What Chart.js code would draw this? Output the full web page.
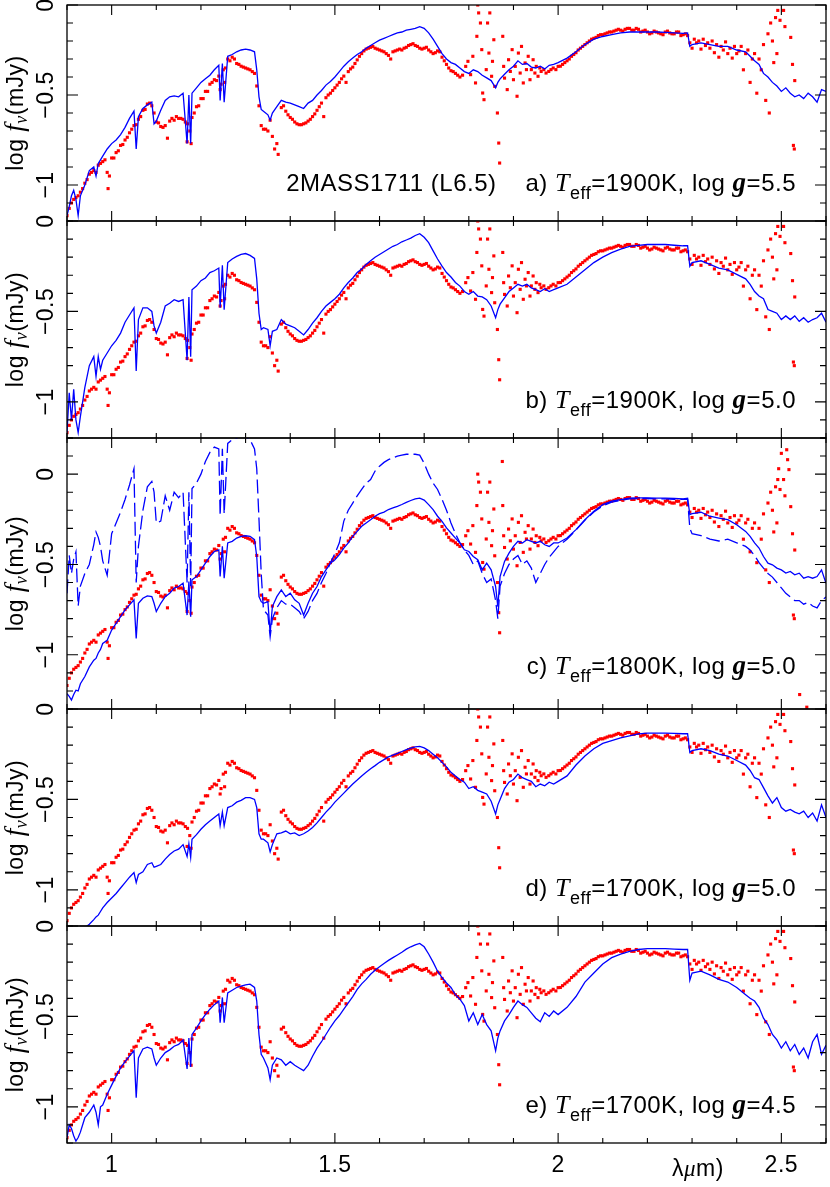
<!DOCTYPE html>
<html><head><meta charset="utf-8">
<script src="https://cdn.jsdelivr.net/npm/chart.js@4.4.1/dist/chart.umd.min.js"></script>
<style>
html,body{margin:0;padding:0;background:#fff;}
#wrap{position:relative;width:830px;height:1187px;overflow:hidden;background:#fff;}
#wrap canvas{position:absolute;left:0;}
</style></head><body><div id="wrap"></div>
<script>
// ---------- observed spectrum (red dots): wavelength (micron) and log f_nu (mJy) ----------
const obsWave = [
 0.90,0.91,0.92,0.93,0.94,0.95,0.96,0.97,0.98,0.99,0.992,
 1.00,1.01,1.02,1.03,1.04,1.05,1.06,1.07,1.08,1.085,1.09,
 1.10,1.11,1.12,1.125,1.13,1.14,1.15,1.16,1.169,1.17,1.178,1.18,1.19,
 1.20,1.21,1.22,1.23,1.24,1.243,1.25,1.253,1.26,1.27,1.28,1.29,
 1.30,1.31,1.32,1.325,1.33,1.335,1.34,1.35,1.355,1.36,1.365,1.37,1.373,1.38,1.385,1.39,
 1.40,1.41,1.42,1.43,1.44,1.45,1.46,1.47,1.475,1.48,1.49,
 1.50,1.51,1.52,1.525,1.53,1.54,1.55,1.56,1.57,1.58,1.59,
 1.60,1.61,1.62,1.625,1.63,1.64,1.65,1.66,1.67,1.68,1.69,
 1.70,1.71,1.72,1.73,1.74,1.75,1.76,1.77,1.78,1.786,
 1.793,1.798,1.804,1.809,1.815,1.818,1.820,1.822,1.826,1.829,1.831,1.834,1.839,1.842,1.845,1.847,1.851,1.853,1.856,1.858,1.864,1.867,1.869,
 1.875,1.876,1.878,1.880,1.886,1.889,1.893,1.897,1.900,1.904,1.908,1.911,1.915,1.918,1.922,1.926,1.929,1.933,1.937,1.940,
 1.944,1.948,1.951,1.955,1.959,1.962,1.968,1.973,1.979,1.984,1.989,1.995,2.000,
 2.01,2.02,2.03,2.04,2.05,2.06,2.07,2.08,2.09,2.10,
 2.11,2.12,2.13,2.14,2.15,2.16,2.17,2.18,2.19,2.20,
 2.21,2.22,2.23,2.24,2.25,2.26,2.27,2.28,2.285,2.29,
 2.295,2.30,2.305,2.31,2.315,2.32,2.325,2.33,2.335,2.34,2.345,2.35,2.355,2.36,2.365,2.37,2.375,2.38,2.385,2.39,
 2.395,2.40,2.405,2.41,2.415,2.42,2.425,2.43,2.435,2.44,2.445,2.45,2.455,2.46,2.465,2.47,2.473,2.476,2.48,2.483,
 2.487,2.49,2.492,2.494,2.497,2.50,2.505,2.508,2.512,2.514,2.517,2.521,2.525,2.527,2.529,2.53,2.541,2.557
];
const obsLogF = [
 -1.17,-1.10,-1.07,-1.04,-0.99,-0.94,-0.92,-0.89,-0.87,-0.93,-1.02,
 -0.85,-0.82,-0.78,-0.75,-0.71,-0.67,-0.635,-0.585,-0.55,-0.545,-0.56,
 -0.65,-0.675,-0.67,-0.74,-0.645,-0.64,-0.63,-0.635,-0.76,-0.66,-0.77,-0.625,-0.565,
 -0.52,-0.48,-0.44,-0.415,-0.395,-0.47,-0.36,-0.43,-0.30,-0.29,-0.325,-0.34,
 -0.35,-0.36,-0.38,-0.45,-0.56,-0.67,-0.69,-0.70,-0.64,-0.73,-0.80,-0.77,-0.83,-0.57,-0.56,-0.59,
 -0.625,-0.65,-0.665,-0.66,-0.645,-0.62,-0.585,-0.545,-0.62,-0.515,-0.49,
 -0.46,-0.43,-0.395,-0.43,-0.37,-0.345,-0.305,-0.27,-0.245,-0.235,-0.24,
 -0.25,-0.26,-0.28,-0.30,-0.26,-0.25,-0.25,-0.235,-0.22,-0.225,-0.24,
 -0.24,-0.25,-0.27,-0.255,-0.29,-0.33,-0.365,-0.38,-0.40,-0.39,
 -0.341,-0.313,-0.387,-0.285,-0.433,-0.174,0.0,-0.044,-0.10,-0.248,-0.489,-0.526,-0.359,-0.10,-0.267,-0.044,-0.396,-0.313,-0.193,-0.452,-0.60,-0.767,-0.878,
 0.07,-0.174,-0.341,-0.406,-0.47,-0.304,-0.369,-0.248,-0.415,-0.341,-0.507,-0.267,-0.378,-0.23,-0.433,-0.322,-0.359,-0.285,-0.415,-0.359,
 -0.304,-0.378,-0.341,-0.396,-0.35,-0.369,-0.359,-0.378,-0.369,-0.359,-0.35,-0.359,-0.341,
 -0.33,-0.31,-0.285,-0.265,-0.24,-0.22,-0.20,-0.185,-0.17,-0.165,
 -0.155,-0.15,-0.14,-0.14,-0.135,-0.13,-0.14,-0.135,-0.145,-0.15,
 -0.155,-0.15,-0.16,-0.15,-0.155,-0.16,-0.15,-0.165,-0.16,-0.17,
 -0.21,-0.24,-0.19,-0.21,-0.20,-0.245,-0.19,-0.225,-0.21,-0.24,-0.20,-0.265,-0.22,-0.29,-0.23,-0.25,-0.205,-0.27,-0.24,-0.295,
 -0.23,-0.27,-0.255,-0.23,-0.36,-0.27,-0.25,-0.43,-0.30,-0.27,-0.49,-0.30,-0.36,-0.22,-0.53,-0.16,-0.60,-0.10,-0.20,-0.32,
 -0.07,-0.27,-0.03,0.03,-0.085,0.115,-0.03,-0.12,0.135,0.08,0.025,-0.18,-0.33,-0.78,-0.80,-0.42,-1.22,-1.29
];
// additional observed points between the grid above (dense parts of the spectrum)
const obsWaveFill = [
 0.905,0.915,0.925,0.935,0.945,0.955,0.965,0.975,0.985,0.995,
 1.005,1.015,1.025,1.035,1.045,1.055,1.065,1.075,1.095,1.105,
 1.115,1.135,1.145,1.155,1.165,1.175,1.185,1.195,1.205,1.215,
 1.225,1.235,1.245,1.255,1.265,1.275,1.285,1.295,1.305,1.315,
 1.345,1.395,1.405,1.415,1.425,1.435,1.445,1.455,1.465,1.485,
 1.495,1.505,1.515,1.535,1.545,1.555,1.565,1.575,1.585,1.595,
 1.605,1.615,1.635,1.645,1.655,1.665,1.675,1.685,1.695,1.705,
 1.715,1.725,1.735,1.745,1.755,1.765,1.775,
 2.005,2.015,2.025,2.035,2.045,2.055,2.065,2.075,2.085,2.095,
 2.105,2.115,2.125,2.135,2.145,2.155,2.165,2.175,2.185,2.195,
 2.205,2.215,2.225,2.235,2.245,2.255,2.265,2.275
];
const obsLogFFill = [
 -1.13,-1.08,-1.06,-1.02,-0.97,-0.93,-0.93,-0.88,-0.86,-0.95,
 -0.85,-0.81,-0.775,-0.735,-0.69,-0.665,-0.62,-0.58,-0.60,-0.655,
 -0.68,-0.63,-0.62,-0.63,-0.65,-0.70,-0.60,-0.56,-0.52,-0.48,
 -0.43,-0.42,-0.44,-0.35,-0.31,-0.30,-0.33,-0.345,-0.355,-0.37,
 -0.69,-0.61,-0.635,-0.66,-0.665,-0.655,-0.635,-0.605,-0.565,-0.50,
 -0.475,-0.445,-0.41,-0.355,-0.325,-0.285,-0.255,-0.24,-0.23,-0.245,
 -0.255,-0.27,-0.255,-0.245,-0.24,-0.225,-0.215,-0.23,-0.245,-0.235,
 -0.26,-0.265,-0.26,-0.31,-0.35,-0.37,-0.39,
 -0.34,-0.32,-0.30,-0.275,-0.25,-0.23,-0.21,-0.19,-0.18,-0.165,
 -0.16,-0.15,-0.145,-0.135,-0.145,-0.13,-0.14,-0.13,-0.15,-0.14,
 -0.16,-0.145,-0.155,-0.165,-0.145,-0.16,-0.15,-0.17
];

// ---------- model spectra (blue lines), common wavelength grid ----------
const modelWave = [
 0.90,0.905,0.91,0.915,0.92,0.925,0.93,
 0.94,0.95,0.96,0.965,0.97,0.975,0.98,0.99,
 1.00,1.01,1.02,1.03,1.04,1.05,1.055,1.06,1.07,1.08,1.09,1.095,
 1.10,1.11,1.12,1.13,1.14,1.15,1.16,1.169,1.173,1.177,1.18,1.19,
 1.20,1.21,1.22,1.23,1.24,1.243,1.248,1.252,1.26,1.27,1.28,1.29,
 1.30,1.31,1.32,1.325,1.33,1.335,1.34,1.35,1.355,1.36,1.37,1.38,1.39,
 1.40,1.41,1.42,1.43,1.44,1.45,1.46,1.47,1.48,1.49,
 1.50,1.51,1.52,1.53,1.54,1.55,1.56,1.57,1.58,1.59,
 1.60,1.61,1.62,1.63,1.64,1.65,1.66,1.67,1.68,1.69,
 1.70,1.71,1.72,1.73,1.74,1.75,1.76,1.77,1.78,1.79,
 1.80,1.81,1.82,1.83,1.84,1.85,1.86,1.865,1.87,1.88,1.89,
 1.90,1.91,1.92,1.93,1.94,1.95,1.96,1.97,1.98,1.99,
 2.00,2.02,2.04,2.06,2.08,2.10,2.12,2.14,2.16,2.18,2.20,2.22,2.24,2.26,2.28,
 2.29,2.295,2.30,2.32,2.34,2.36,2.38,2.40,
 2.42,2.43,2.44,2.45,2.46,2.47,2.48,2.49,
 2.50,2.51,2.52,2.53,2.54,2.55,2.56,2.57,2.58,2.59,2.60
];
// a) Teff=1900K, log g=5.5
const modelA = [
 -1.17,-1.12,-1.06,-1.03,-1.08,-1.17,-1.06,
 -1.00,-0.92,-0.90,-0.95,-0.88,-0.86,-0.84,-0.80,
 -0.77,-0.75,-0.72,-0.68,-0.63,-0.59,-0.80,-0.62,-0.575,-0.555,-0.54,-0.66,
 -0.645,-0.585,-0.53,-0.51,-0.505,-0.51,-0.49,-0.77,-0.50,-0.77,-0.49,-0.46,
 -0.43,-0.41,-0.39,-0.36,-0.335,-0.53,-0.325,-0.54,-0.285,-0.275,-0.26,-0.25,
 -0.245,-0.25,-0.26,-0.36,-0.51,-0.58,-0.59,-0.61,-0.64,-0.60,-0.565,-0.53,-0.54,
 -0.545,-0.555,-0.565,-0.575,-0.545,-0.53,-0.50,-0.475,-0.445,-0.425,
 -0.40,-0.37,-0.34,-0.315,-0.295,-0.275,-0.26,-0.24,-0.225,-0.21,
 -0.195,-0.185,-0.175,-0.165,-0.155,-0.15,-0.14,-0.135,-0.13,-0.12,
 -0.13,-0.155,-0.19,-0.23,-0.27,-0.30,-0.32,-0.33,-0.35,-0.37,
 -0.38,-0.36,-0.37,-0.39,-0.405,-0.42,-0.46,-0.43,-0.41,-0.385,-0.36,
 -0.34,-0.31,-0.33,-0.325,-0.345,-0.35,-0.34,-0.355,-0.335,-0.33,
 -0.32,-0.295,-0.26,-0.22,-0.19,-0.175,-0.165,-0.155,-0.15,-0.15,-0.15,-0.15,-0.152,-0.155,-0.158,
 -0.155,-0.23,-0.22,-0.21,-0.22,-0.23,-0.23,-0.25,
 -0.26,-0.285,-0.31,-0.33,-0.38,-0.40,-0.43,-0.45,
 -0.48,-0.46,-0.49,-0.51,-0.50,-0.52,-0.49,-0.51,-0.54,-0.47,-0.48
];
// b) Teff=1900K, log g=5.0
const modelB = [
 -1.17,-0.95,-1.10,-0.93,-1.10,-1.17,-1.08,
 -0.92,-0.80,-0.75,-0.86,-0.75,-0.82,-0.77,-0.73,
 -0.69,-0.66,-0.62,-0.56,-0.52,-0.48,-0.83,-0.545,-0.48,-0.48,-0.50,-0.58,
 -0.62,-0.56,-0.47,-0.455,-0.435,-0.445,-0.435,-0.77,-0.42,-0.75,-0.38,-0.36,
 -0.33,-0.315,-0.285,-0.275,-0.26,-0.48,-0.245,-0.49,-0.23,-0.21,-0.196,-0.185,
 -0.18,-0.19,-0.207,-0.32,-0.51,-0.60,-0.59,-0.60,-0.69,-0.61,-0.60,-0.545,-0.57,
 -0.58,-0.59,-0.61,-0.63,-0.60,-0.565,-0.535,-0.50,-0.47,-0.45,
 -0.43,-0.405,-0.37,-0.34,-0.315,-0.285,-0.265,-0.24,-0.22,-0.20,
 -0.185,-0.17,-0.155,-0.14,-0.13,-0.115,-0.105,-0.095,-0.08,-0.07,
 -0.09,-0.12,-0.165,-0.21,-0.25,-0.285,-0.31,-0.34,-0.36,-0.39,
 -0.405,-0.39,-0.415,-0.42,-0.435,-0.47,-0.535,-0.49,-0.46,-0.425,-0.39,
 -0.37,-0.35,-0.36,-0.35,-0.37,-0.38,-0.39,-0.375,-0.39,-0.38,
 -0.37,-0.35,-0.31,-0.27,-0.23,-0.20,-0.175,-0.155,-0.14,-0.135,-0.13,-0.13,-0.13,-0.134,-0.137,
 -0.137,-0.25,-0.23,-0.22,-0.24,-0.26,-0.27,-0.295,
 -0.32,-0.35,-0.39,-0.415,-0.43,-0.49,-0.50,-0.51,
 -0.545,-0.525,-0.545,-0.525,-0.555,-0.535,-0.56,-0.545,-0.535,-0.51,-0.56
];
// c) Teff=1800K, log g=5.0 (solid)
const modelC = [
 -1.215,-1.23,-1.25,-1.22,-1.196,-1.20,-1.16,
 -1.12,-1.067,-1.03,-1.02,-0.99,-0.97,-0.937,-0.92,
 -0.863,-0.826,-0.789,-0.752,-0.724,-0.696,-0.909,-0.715,-0.687,-0.674,-0.678,-0.715,
 -0.761,-0.715,-0.678,-0.659,-0.631,-0.622,-0.604,-0.78,-0.594,-0.789,-0.585,-0.567,
 -0.53,-0.493,-0.456,-0.428,-0.419,-0.567,-0.40,-0.576,-0.381,-0.372,-0.354,-0.344,
 -0.341,-0.344,-0.363,-0.456,-0.678,-0.706,-0.715,-0.706,-0.881,-0.733,-0.678,-0.641,-0.678,
 -0.659,-0.696,-0.715,-0.78,-0.715,-0.659,-0.622,-0.567,-0.53,-0.493,
 -0.474,-0.446,-0.409,-0.381,-0.344,-0.317,-0.289,-0.27,-0.252,-0.233,
 -0.219,-0.21,-0.196,-0.187,-0.178,-0.168,-0.156,-0.146,-0.137,-0.133,
 -0.144,-0.169,-0.196,-0.233,-0.261,-0.298,-0.326,-0.354,-0.381,-0.419,
 -0.428,-0.456,-0.474,-0.53,-0.493,-0.53,-0.622,-0.733,-0.567,-0.483,-0.437,
 -0.40,-0.372,-0.381,-0.363,-0.372,-0.381,-0.372,-0.391,-0.40,-0.381,
 -0.381,-0.354,-0.307,-0.252,-0.206,-0.169,-0.15,-0.141,-0.133,-0.131,-0.131,-0.133,-0.133,-0.135,-0.137,
 -0.133,-0.224,-0.219,-0.211,-0.233,-0.243,-0.252,-0.28,
 -0.317,-0.344,-0.381,-0.409,-0.456,-0.493,-0.502,-0.52,
 -0.53,-0.548,-0.539,-0.557,-0.548,-0.576,-0.567,-0.576,-0.567,-0.53,-0.604
];
// c) dashed comparison model
const modelCdash = [
 -0.66,-0.45,-0.55,-0.47,-0.43,-0.73,-0.62,
 -0.55,-0.50,-0.39,-0.32,-0.35,-0.40,-0.48,-0.56,
 -0.33,-0.27,-0.21,-0.14,-0.06,0.03,-0.60,-0.40,-0.20,-0.07,-0.04,-0.10,
 -0.27,-0.26,-0.12,-0.20,-0.10,-0.13,-0.10,-0.60,-0.10,-0.62,-0.08,-0.05,
 0.00,0.07,0.12,0.15,0.14,-0.23,0.14,-0.22,0.17,0.19,0.20,0.21,
 0.21,0.19,0.14,0.03,-0.25,-0.55,-0.75,-0.78,-0.90,-0.80,-0.74,-0.70,-0.72,
 -0.72,-0.74,-0.76,-0.80,-0.76,-0.70,-0.66,-0.60,-0.55,-0.49,
 -0.44,-0.38,-0.26,-0.20,-0.16,-0.12,-0.085,-0.05,-0.03,0.017,
 0.044,0.065,0.08,0.09,0.10,0.105,0.11,0.11,0.11,0.105,
 0.06,0.00,-0.05,-0.085,-0.14,-0.20,-0.27,-0.33,-0.38,-0.42,
 -0.45,-0.50,-0.48,-0.55,-0.60,-0.58,-0.70,-0.80,-0.62,-0.55,-0.50,
 -0.47,-0.45,-0.50,-0.48,-0.52,-0.60,-0.55,-0.50,-0.46,-0.43,
 -0.40,-0.36,-0.31,-0.255,-0.21,-0.175,-0.155,-0.145,-0.137,-0.135,-0.135,-0.137,-0.137,-0.14,-0.14,
 -0.14,-0.30,-0.33,-0.34,-0.36,-0.37,-0.36,-0.38,
 -0.40,-0.42,-0.45,-0.49,-0.52,-0.55,-0.57,-0.60,
 -0.63,-0.66,-0.68,-0.70,-0.70,-0.72,-0.71,-0.73,-0.74,-0.70,-0.68
];
// d) Teff=1700K, log g=5.0
const modelD = [
 -1.32,-1.31,-1.29,-1.28,-1.26,-1.25,-1.24,
 -1.21,-1.19,-1.165,-1.15,-1.14,-1.12,-1.10,-1.07,
 -1.045,-1.02,-0.99,-0.96,-0.93,-0.905,-0.96,-0.915,-0.90,-0.86,-0.85,-0.875,
 -0.87,-0.86,-0.83,-0.805,-0.785,-0.775,-0.75,-0.815,-0.745,-0.82,-0.72,-0.695,
 -0.665,-0.64,-0.62,-0.60,-0.58,-0.645,-0.57,-0.645,-0.545,-0.535,-0.515,-0.505,
 -0.49,-0.49,-0.50,-0.545,-0.69,-0.72,-0.72,-0.74,-0.79,-0.75,-0.69,-0.685,-0.675,
 -0.69,-0.685,-0.70,-0.69,-0.675,-0.655,-0.63,-0.60,-0.57,-0.545,
 -0.515,-0.49,-0.465,-0.44,-0.415,-0.393,-0.37,-0.35,-0.33,-0.313,
 -0.295,-0.28,-0.265,-0.255,-0.245,-0.235,-0.225,-0.217,-0.21,-0.207,
 -0.215,-0.23,-0.25,-0.27,-0.295,-0.32,-0.35,-0.37,-0.39,-0.405,
 -0.44,-0.43,-0.45,-0.46,-0.47,-0.51,-0.58,-0.53,-0.50,-0.44,-0.405,
 -0.39,-0.36,-0.38,-0.39,-0.40,-0.43,-0.415,-0.425,-0.405,-0.415,
 -0.40,-0.37,-0.31,-0.26,-0.22,-0.19,-0.175,-0.16,-0.148,-0.137,-0.133,-0.133,-0.133,-0.135,-0.137,
 -0.137,-0.24,-0.23,-0.22,-0.23,-0.25,-0.26,-0.285,
 -0.31,-0.34,-0.38,-0.39,-0.435,-0.48,-0.52,-0.49,
 -0.545,-0.565,-0.555,-0.57,-0.58,-0.565,-0.60,-0.575,-0.62,-0.53,-0.60
];
// e) Teff=1700K, log g=4.5
const modelE = [
 -1.17,-1.10,-1.12,-1.16,-1.19,-1.17,-1.14,
 -1.06,-1.03,-0.99,-1.03,-1.10,-1.00,-0.99,-0.93,
 -0.88,-0.83,-0.785,-0.75,-0.72,-0.69,-0.95,-0.73,-0.68,-0.67,-0.68,-0.73,
 -0.77,-0.73,-0.70,-0.685,-0.665,-0.655,-0.63,-0.79,-0.62,-0.78,-0.60,-0.565,
 -0.525,-0.49,-0.46,-0.435,-0.415,-0.535,-0.395,-0.535,-0.37,-0.355,-0.34,-0.333,
 -0.325,-0.322,-0.34,-0.415,-0.60,-0.71,-0.73,-0.785,-0.85,-0.77,-0.73,-0.74,-0.77,
 -0.75,-0.77,-0.785,-0.80,-0.77,-0.72,-0.675,-0.64,-0.60,-0.56,
 -0.525,-0.495,-0.46,-0.425,-0.39,-0.35,-0.32,-0.295,-0.267,-0.245,
 -0.225,-0.207,-0.19,-0.175,-0.16,-0.145,-0.128,-0.115,-0.104,-0.096,
 -0.115,-0.155,-0.20,-0.25,-0.285,-0.315,-0.34,-0.38,-0.405,-0.44,
 -0.525,-0.48,-0.545,-0.49,-0.545,-0.58,-0.69,-0.62,-0.58,-0.525,-0.49,
 -0.45,-0.415,-0.435,-0.45,-0.48,-0.51,-0.53,-0.48,-0.50,-0.47,
 -0.49,-0.45,-0.39,-0.31,-0.26,-0.21,-0.175,-0.155,-0.14,-0.13,-0.125,-0.125,-0.125,-0.128,-0.13,
 -0.13,-0.30,-0.26,-0.25,-0.27,-0.295,-0.31,-0.34,
 -0.38,-0.40,-0.415,-0.45,-0.51,-0.545,-0.60,-0.63,
 -0.675,-0.64,-0.69,-0.655,-0.71,-0.675,-0.73,-0.64,-0.60,-0.71,-0.66
];

// ---------- ticks and labels ----------
const xTickValues = [1, 1.5, 2, 2.5];
const xTickLabels = ['1', '1.5', '2', '2.5'];
const yTickValues = [0, -0.5, -1];
const yTickLabels = ['0', '\u22120.5', '\u22121'];
const objectName = '2MASS1711 (L6.5)';
const panelLetters = ['a)', 'b)', 'c)', 'd)', 'e)'];
const panelTeff = ['1900K', '1900K', '1800K', '1700K', '1700K'];
const panelLogg = ['5.5', '5.0', '5.0', '5.0', '4.5'];

// ---------- layout ----------
const panelTop = [5, 221, 438, 709, 926];
const panelBottom = [221, 438, 709, 926, 1143];
const yMin = [-1.2, -1.2, -1.3, -1.2, -1.2];
const yMax = [0, 0, 0.2, 0, 0];
const models = [modelA, modelB, modelC, modelD, modelE];

const SANS = '"Liberation Sans", Arial, sans-serif';
const SERIF = '"Liberation Serif", "Times New Roman", serif';

function drawRich(ctx, parts, x, y, align) {
  let w = 0;
  parts.forEach(p => { ctx.font = p.f; w += ctx.measureText(p.t).width; });
  let cx = align === 'right' ? x - w : (align === 'center' ? x - w / 2 : x);
  const start = cx;
  parts.forEach(p => {
    ctx.font = p.f;
    ctx.fillText(p.t, cx, y + (p.dy || 0));
    cx += ctx.measureText(p.t).width;
  });
  return start;
}

const framePlugin = {
  id: 'frame',
  afterDraw(chart, args, opts) {
    const ctx = chart.ctx, ca = chart.chartArea;
    const xs = chart.scales.x, ys = chart.scales.y;
    ctx.save();
    ctx.strokeStyle = '#000';
    ctx.fillStyle = '#000';
    ctx.lineWidth = 1.3;
    ctx.strokeRect(ca.left, ca.top, ca.right - ca.left, ca.bottom - ca.top);
    ctx.lineWidth = 1.1;
    ctx.beginPath();
    for (let k = 9; k <= 26; k++) {
      const px = xs.getPixelForValue(k / 10);
      const len = (k % 5 === 0) ? 10 : 5;
      ctx.moveTo(px, ca.top); ctx.lineTo(px, ca.top + len);
      ctx.moveTo(px, ca.bottom); ctx.lineTo(px, ca.bottom - len);
    }
    const k0 = Math.ceil(ys.min * 10 - 1e-6), k1 = Math.floor(ys.max * 10 + 1e-6);
    for (let k = k0; k <= k1; k++) {
      const py = ys.getPixelForValue(k / 10);
      const len = (k % 5 === 0) ? 11 : 6;
      ctx.moveTo(ca.left, py); ctx.lineTo(ca.left + len, py);
      ctx.moveTo(ca.right, py); ctx.lineTo(ca.right - len, py);
    }
    ctx.stroke();

    ctx.letterSpacing = '0.5px';
    ctx.textAlign = 'center';
    ctx.textBaseline = 'alphabetic';
    ctx.font = '23px ' + SANS;
    yTickValues.forEach((v, i) => {
      if (v > ys.max + 1e-6 || v < ys.min - 1e-6) return;
      const py = ys.getPixelForValue(v);
      ctx.save();
      ctx.translate(53, py);
      ctx.rotate(-Math.PI / 2);
      ctx.fillText(yTickLabels[i], 0, 0);
      ctx.restore();
    });
    ctx.textAlign = 'left';
    ctx.save();
    ctx.translate(23, (ca.top + ca.bottom) / 2);
    ctx.rotate(-Math.PI / 2);
    drawRich(ctx, [
      { t: 'log ', f: '23px ' + SANS },
      { t: 'f', f: 'italic 27px ' + SERIF },
      { t: '\u03bd', f: 'italic 18px ' + SERIF, dy: 4 },
      { t: '(mJy)', f: '23px ' + SANS }
    ], 0, 0, 'center');
    ctx.restore();

    const i = opts.index;
    const rx = ca.right - 30, by = ca.bottom - opts.annotOffset;
    const start = drawRich(ctx, [
      { t: panelLetters[i] + ' ', f: '24px ' + SANS },
      { t: 'T', f: 'italic 26px ' + SERIF },
      { t: 'eff', f: '18px ' + SANS, dy: 8 },
      { t: '=' + panelTeff[i] + ', log ', f: '24px ' + SANS },
      { t: 'g', f: 'italic bold 27px ' + SERIF },
      { t: '=' + panelLogg[i], f: '24px ' + SANS }
    ], rx, by, 'right');
    if (i === 0) {
      ctx.font = '24px ' + SANS;
      ctx.textAlign = 'right';
      ctx.fillText(objectName, start - 29, by);
      ctx.textAlign = 'left';
    }

    if (opts.xLabels) {
      ctx.font = '23px ' + SANS;
      ctx.textAlign = 'center';
      xTickValues.forEach((v, j) => {
        ctx.fillText(xTickLabels[j], xs.getPixelForValue(v), ca.bottom + 29);
      });
      ctx.textAlign = 'left';
      drawRich(ctx, [
        { t: '\u03bb', f: '23px ' + SANS },
        { t: '\u03bc', f: 'italic 23px ' + SERIF },
        { t: 'm)', f: '23px ' + SANS }
      ], 672, ca.bottom + 33, 'left');
    }
    ctx.restore();
  }
};

const obsPoints = obsWave.map((w, j) => ({ x: w, y: obsLogF[j] }))
  .concat(obsWaveFill.map((w, j) => ({ x: w, y: obsLogFFill[j] })));

const wrap = document.getElementById('wrap');
panelTop.forEach((top, i) => {
  const mTop = Math.min(top, 14);
  const mBot = (i === 4) ? (1187 - panelBottom[i]) : 14;
  const h = panelBottom[i] - top + mTop + mBot;
  const cv = document.createElement('canvas');
  cv.width = 830; cv.height = h;
  cv.style.width = '830px'; cv.style.height = h + 'px';
  cv.style.top = (top - mTop) + 'px';
  wrap.appendChild(cv);

  const datasets = [{
    label: 'model',
    data: modelWave.map((w, j) => ({ x: w, y: models[i][j] })),
    showLine: true, borderColor: '#0000ff', borderWidth: 1.3,
    pointRadius: 0, tension: 0, order: 0, clip: 0
  }];
  if (i === 2) {
    datasets.push({
      label: 'model (dashed)',
      data: modelWave.map((w, j) => ({ x: w, y: modelCdash[j] })),
      showLine: true, borderColor: '#0000ff', borderWidth: 1.3, borderDash: [14, 5],
      pointRadius: 0, tension: 0, order: 0, clip: 0
    });
  }
  datasets.push({
    label: 'observed',
    data: obsPoints,
    showLine: false, pointStyle: 'rect', pointRadius: 2.2,
    pointBackgroundColor: '#ff0000', backgroundColor: '#ff0000', pointBorderWidth: 0, borderWidth: 0,
    order: 1, clip: 0
  });

  new Chart(cv, {
    type: 'scatter',
    data: { datasets },
    options: {
      responsive: false, devicePixelRatio: 1, animation: false, events: [],
      layout: { padding: { left: 67, right: 2, top: mTop, bottom: mBot } },
      scales: {
        x: { type: 'linear', min: 0.9, max: 2.6, display: false },
        y: { type: 'linear', min: yMin[i], max: yMax[i], display: false }
      },
      plugins: {
        legend: { display: false }, tooltip: { enabled: false },
        frame: { index: i, xLabels: i === 4, annotOffset: i === 2 ? 35 : 30 }
      }
    },
    plugins: [framePlugin]
  });
});
</script></body></html>
